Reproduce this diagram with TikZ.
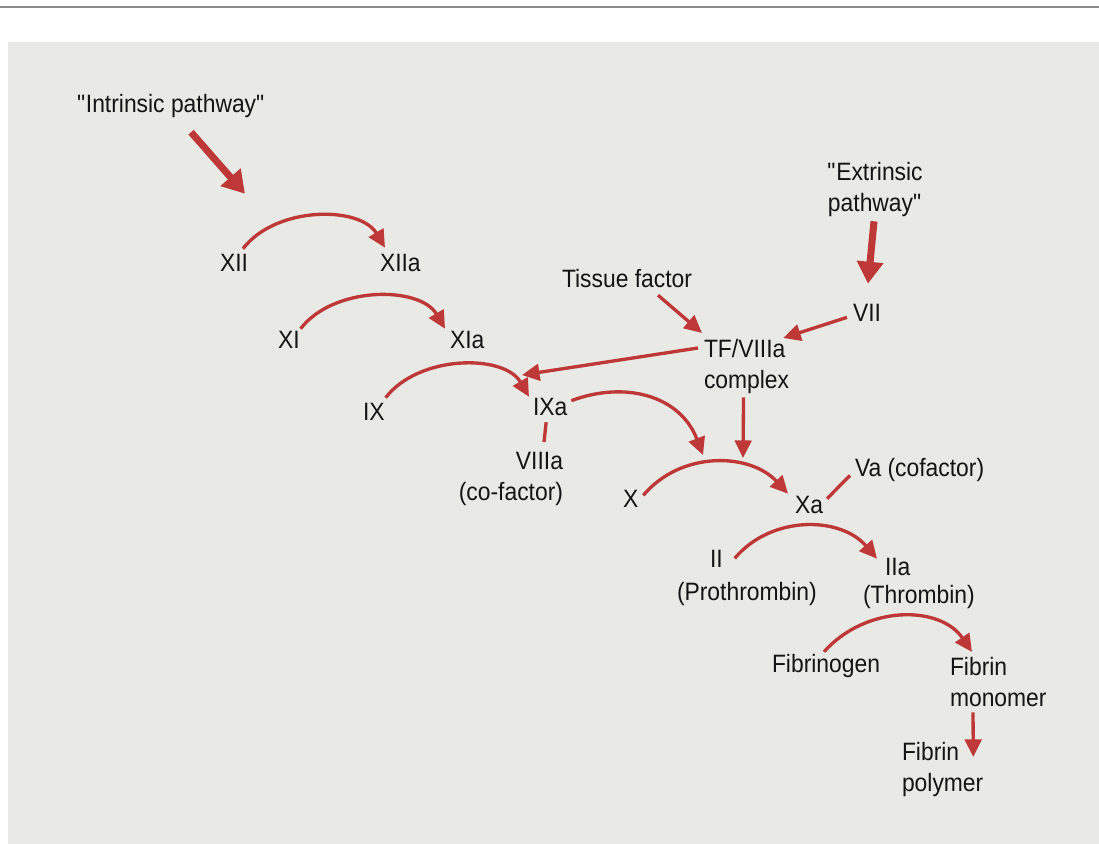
\documentclass[tikz,border=0pt]{standalone}
\usepackage{fontspec}
\setmainfont{Liberation Sans}[FakeStretch=0.91]
\usetikzlibrary{arrows.meta,calc}
\definecolor{clotred}{RGB}{190,56,56}
\definecolor{panelgray}{RGB}{233,234,229}
\definecolor{inkgray}{RGB}{20,20,20}
\tikzset{
  lbl/.style   ={inner sep=0pt,outer sep=0pt,text=inkgray,
                 font=\fontsize{14.3pt}{17.6pt}\selectfont},
  arr/.style   ={-{Triangle[length=10pt,width=9.5pt]},line width=1.9pt,
                 draw=clotred},
  bigarr/.style={-{Triangle[length=12.5pt,width=14.5pt]},line width=4pt,
                 draw=clotred},
  link/.style  ={line width=1.9pt,draw=clotred}
}

\begin{document}
\begin{tikzpicture}[x=0.02cm,y=-0.02cm]
  \useasboundingbox (0,0) rectangle (1099,844);
  \fill[panelgray] (8,42) rectangle (1099,844);
  \draw[line width=1pt,black!45] (0,7) -- (1099,7);

  % Nodes
  \node (intr)   [lbl, anchor=base west] at (77,113)  {\textquotedbl Intrinsic pathway\textquotedbl};
  \node (fxii)   [lbl, anchor=base west] at (220,272) {XII};
  \node (fxiia)  [lbl, anchor=base west] at (380,272) {XIIa};
  \node (fxi)    [lbl, anchor=base west] at (278,349) {XI};
  \node (fxia)   [lbl, anchor=base west] at (450,349) {XIa};
  \node (fix)    [lbl, anchor=base west] at (363,420) {IX};
  \node (fixa)   [lbl, anchor=base west] at (533,416) {IXa};
  \node (viiia)  [lbl, anchor=north east, align=right] at (563,452) {VIIIa\\(co-factor)};
  \node (tissue) [lbl, anchor=base west] at (562,288) {Tissue factor};
  \node (extr)   [lbl, anchor=north, align=center] at (875,162) {\textquotedbl Extrinsic\\pathway\textquotedbl};
  \node (fvii)   [lbl, anchor=base west] at (853,322) {VII};
  \node (tf)     [lbl, anchor=north west, align=left] at (704,339) {TF/VIIIa\\complex};
  \node (fx)     [lbl, anchor=base west] at (623,507) {X};
  \node (fxa)    [lbl, anchor=base west] at (795,513) {Xa};
  \node (fva)    [lbl, anchor=base west] at (855,477) {Va (cofactor)};
  \node (fii)    [lbl, anchor=base west] at (710,567) {II};
  \node (prothr) [lbl, anchor=base west] at (677,600) {(Prothrombin)};
  \node (fiia)   [lbl, anchor=base west] at (885,575) {IIa};
  \node (thromb) [lbl, anchor=base west] at (863,603) {(Thrombin)};
  \node (fibg)   [lbl, anchor=base west] at (772,672) {Fibrinogen};
  \node (mono)   [lbl, anchor=north west, align=left] at (950,657) {Fibrin\\monomer};
  \node (poly)   [lbl, anchor=north west, align=left] at (902,742) {Fibrin\\polymer};

  \coordinate (ixcat) at (522,375);
  \coordinate (xcat1) at (703,455);
  \coordinate (xcat2) at (743,458);

  % Arrows
  \draw [bigarr] ($(intr.south)+(20,14)$) -- ($(fxii.north)+(11,-61)$);
  \draw [bigarr] ($(extr.south)+(-1,5)$) -- ($(fvii.north)+(1,-21)$);
  \draw [arr] ($(fxii.north east)+(-5,-6)$) .. controls +(33,-43) and +(-25,-42) .. ($(fxiia.north west)+(5,-7)$);
  \draw [arr] ($(fxi.north east)+(1,-3)$) .. controls +(33,-43) and +(-25,-43) .. ($(fxia.north west)+(-5,-3)$);
  \draw [arr] ($(fix.north east)+(1,-5)$) .. controls +(33,-43) and +(-25,-43) .. ($(fixa.north west)+(-4,-2)$);
  \draw [arr] ($(fixa.north east)+(4,2)$) .. controls +(53,-20) and +(-23,-60) .. (xcat1);
  \draw [link] ($(fixa.south)+(-4,6)$) -- ($(viiia.north east)+(-19,-10)$);
  \draw [arr] ($(tissue.south east)+(-34,7)$) -- ($(tf.north west)+(-2,-6)$);
  \draw [arr] ($(fvii.west)+(-6,4)$) -- ($(tf.north east)+(-6,-1)$);
  \draw [arr] ($(tf.north west)+(-6,9)$) -- (ixcat);
  \draw [arr] ($(tf.south)+(-3,4)$) -- (xcat2);
  \draw [arr] ($(fx.east)+(5,-3)$) .. controls +(38,-45) and +(-38,-41) .. ($(fxa.north west)+(-7,-2)$);
  \draw [link] ($(fxa.north east)+(4,3)$) -- ($(fva.west)+(-5,5)$);
  \draw [arr] ($(fii.east)+(12,0)$) .. controls +(36,-43) and +(-37,-43) .. ($(fiia.north west)+(-8,1)$);
  \draw [arr] ($(fibg.north)+(-2,-2)$) .. controls +(42,-47) and +(-32,-47) .. ($(mono.north west)+(22,-5)$);
  \draw [arr] ($(mono.south west)+(23,6)$) -- ($(poly.north east)+(-10,15)$);
\end{tikzpicture}
\end{document}
